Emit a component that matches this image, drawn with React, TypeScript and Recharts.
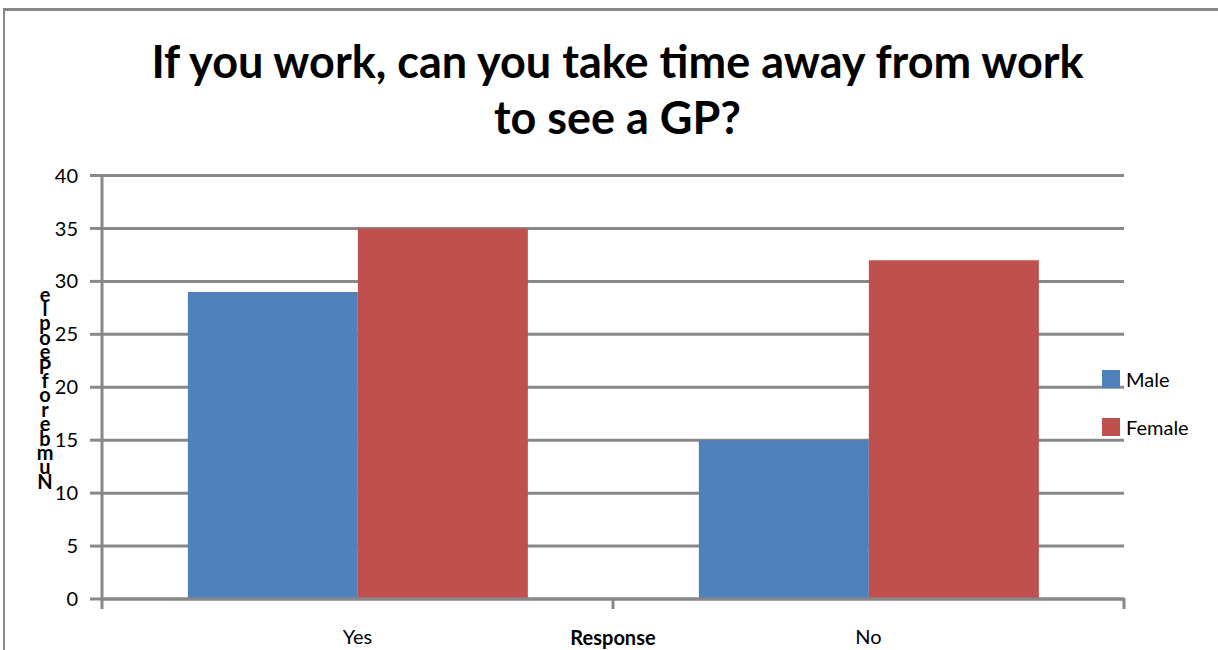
import { Bar, BarChart, CartesianGrid, Legend, XAxis, YAxis } from "recharts";

const responses = ["Yes", "No"];
const male = [29, 15];
const female = [35, 32];
const yTicks = [0, 5, 10, 15, 20, 25, 30, 35, 40];
const titleLines = ["If you work, can you take time away from work", "to see a GP?"];
const yLabel = "Number of People";

const data = responses.map((r, i) => ({ response: r, Male: male[i], Female: female[i] }));

const BLUE = "#4F81BD";
const RED = "#C0504D";
const LINE = "#888888";
const FONT = "Lato, 'Open Sans', sans-serif";

// Excel drew the rotated title as a pile of upright letters, bottom to top
function StackedLabel(props: any) {
  const vb = props.viewBox || {};
  const letters = yLabel.replace(/ /g, "").split("").reverse();
  const step = 14.4;
  const cy = vb.y + vb.height / 2;
  const top = cy - ((letters.length - 1) * step) / 2;
  return (
    <g>
      {letters.map((ch, i) => (
        <text
          key={i}
          x={40}
          y={top + i * step}
          textAnchor="middle"
          dominantBaseline="central"
          fontFamily={FONT}
          fontWeight={700}
          fontSize={20}
          fill="#000"
        >
          {ch}
        </text>
      ))}
    </g>
  );
}

// category label plus Excel-style tick marks on the band edges
function CategoryTick(p: any) {
  const band = p.width && p.visibleTicksCount ? p.width / p.visibleTicksCount : 0;
  const edges = band ? [p.x - band / 2] : [];
  if (band && p.index === p.visibleTicksCount - 1) edges.push(p.x + band / 2);
  return (
    <g>
      {edges.map((ex) => (
        <line key={ex} x1={ex} x2={ex} y1={p.y - 1} y2={p.y + 10} stroke={LINE} strokeWidth={3} />
      ))}
      <text
        x={p.x}
        y={p.y + 31}
        dy="0.71em"
        textAnchor="middle"
        fill="#000"
        fontSize={20}
        fontFamily={FONT}
      >
        {p.payload.value}
      </text>
    </g>
  );
}

function LegendBox() {
  const items = [
    { name: "Male", color: BLUE },
    { name: "Female", color: RED },
  ];
  return (
    <div style={{ fontFamily: FONT, fontSize: 20, color: "#000" }}>
      {items.map((it) => (
        <div key={it.name} style={{ display: "flex", alignItems: "center", height: 48 }}>
          <span style={{ width: 18, height: 18, background: it.color, marginRight: 6 }} />
          {it.name}
        </div>
      ))}
    </div>
  );
}

export default function App() {
  return (
    <div
      style={{
        position: "absolute",
        left: 3,
        top: 8,
        width: 1213,
        height: 639,
        borderLeft: `2px solid ${LINE}`,
        borderTop: `3px solid ${LINE}`,
        background: "#fff",
        overflow: "hidden",
      }}
    >
      <div
        style={{
          position: "absolute",
          left: 0,
          width: 1225,
          top: 22,
          textAlign: "center",
          fontFamily: FONT,
          fontWeight: 700,
          fontSize: 45,
          lineHeight: "56px",
          color: "#000",
        }}
      >
        {titleLines.map((t) => (
          <div key={t}>{t}</div>
        ))}
      </div>
      <BarChart
        width={1213}
        height={639}
        data={data}
        margin={{ top: 164.5, right: 94, left: 0, bottom: 0 }}
        barCategoryGap="16.8%"
        barGap={0}
      >
        <CartesianGrid vertical={false} stroke={LINE} strokeWidth={3} />
        <XAxis
          dataKey="response"
          height={51}
          interval={0}
          axisLine={{ stroke: LINE, strokeWidth: 3 }}
          tickLine={false}
          tickSize={0}
          tickMargin={0}
          tick={CategoryTick}
          label={{
            value: "Response",
            position: "insideBottom",
            offset: 5,
            fill: "#000",
            fontSize: 20,
            fontWeight: 700,
            fontFamily: FONT,
          }}
        />
        <YAxis
          width={97}
          domain={[0, 40]}
          ticks={yTicks}
          interval={0}
          axisLine={{ stroke: LINE, strokeWidth: 3 }}
          tickLine={{ stroke: LINE, strokeWidth: 3 }}
          tickSize={12}
          tickMargin={12}
          tick={{ fill: "#000", fontSize: 20, fontFamily: FONT }}
          label={<StackedLabel />}
        />
        <Legend
          layout="horizontal"
          verticalAlign="middle"
          content={<LegendBox />}
          wrapperStyle={{ left: 1097, top: 344, width: 120 }}
        />
        <Bar dataKey="Male" fill={BLUE} isAnimationActive={false} />
        <Bar dataKey="Female" fill={RED} isAnimationActive={false} />
      </BarChart>
    </div>
  );
}
